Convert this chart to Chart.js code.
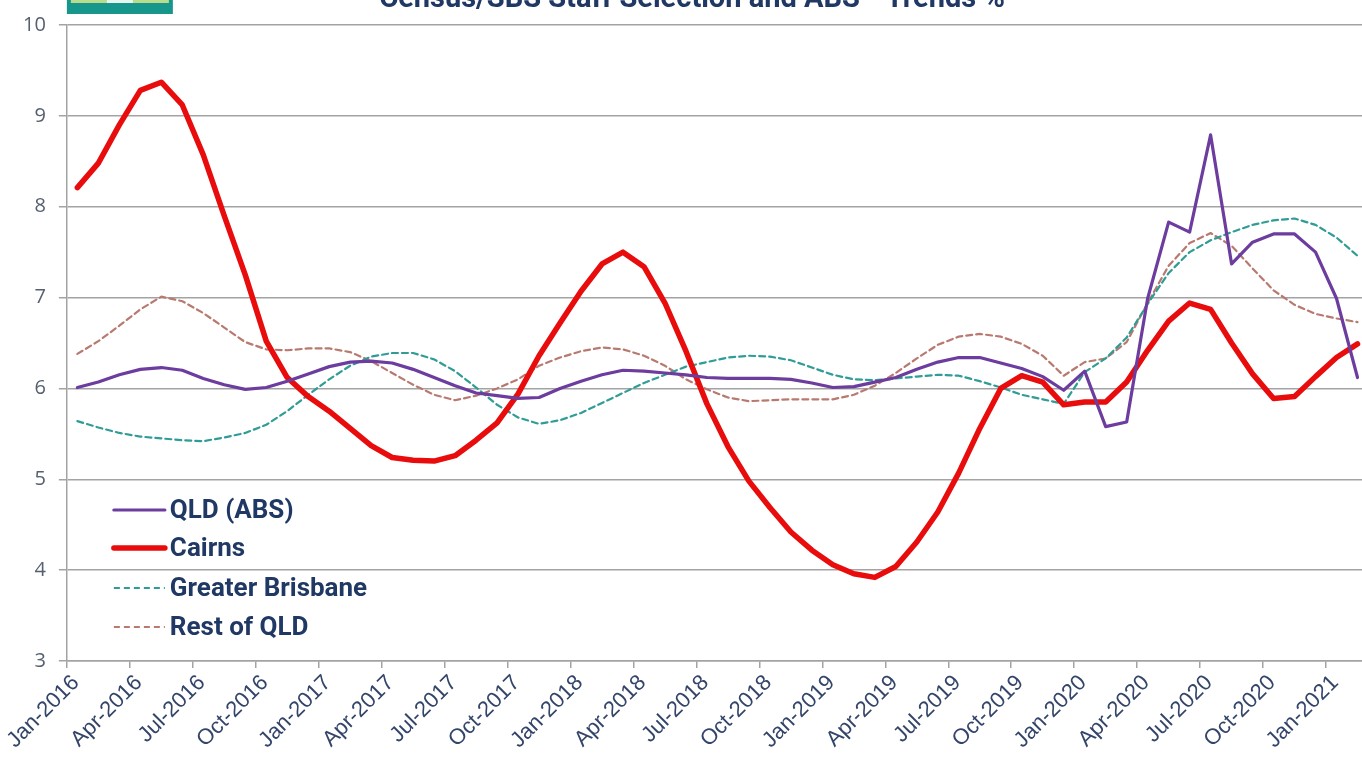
<!DOCTYPE html>
<html>
<head>
<meta charset="utf-8">
<title>Trends %</title>
<script src="https://cdn.jsdelivr.net/npm/chart.js@4.4.1/dist/chart.umd.min.js"></script>
<style>
  html, body { margin: 0; padding: 0; background: #fff; overflow: hidden; }
  #wrap { position: relative; width: 1362px; height: 759px; overflow: hidden; }
  canvas { position: absolute; left: 0; top: 0; }
</style>
</head>
<body>
<div id="wrap">
  <canvas id="trendChart" width="1372" height="759"></canvas>
</div>
<script>
// months, Jan-2016 .. Feb-2021
const months = [
    'Jan-2016', 'Feb-2016', 'Mar-2016', 'Apr-2016', 'May-2016', 'Jun-2016', 'Jul-2016', 'Aug-2016', 'Sep-2016', 'Oct-2016', 'Nov-2016', 'Dec-2016',
    'Jan-2017', 'Feb-2017', 'Mar-2017', 'Apr-2017', 'May-2017', 'Jun-2017', 'Jul-2017', 'Aug-2017', 'Sep-2017', 'Oct-2017', 'Nov-2017', 'Dec-2017',
    'Jan-2018', 'Feb-2018', 'Mar-2018', 'Apr-2018', 'May-2018', 'Jun-2018', 'Jul-2018', 'Aug-2018', 'Sep-2018', 'Oct-2018', 'Nov-2018', 'Dec-2018',
    'Jan-2019', 'Feb-2019', 'Mar-2019', 'Apr-2019', 'May-2019', 'Jun-2019', 'Jul-2019', 'Aug-2019', 'Sep-2019', 'Oct-2019', 'Nov-2019', 'Dec-2019',
    'Jan-2020', 'Feb-2020', 'Mar-2020', 'Apr-2020', 'May-2020', 'Jun-2020', 'Jul-2020', 'Aug-2020', 'Sep-2020', 'Oct-2020', 'Nov-2020', 'Dec-2020',
    'Jan-2021', 'Feb-2021'
];

// x ticks sit on the month boundaries, one every quarter
const quarterTicks = [0, 3, 6, 9, 12, 15, 18, 21, 24, 27, 30, 33, 36, 39, 42, 45, 48, 51, 54, 57, 60];
const yTicks = [3, 4, 5, 6, 7, 8, 9, 10];

const qldAbs = [
    6.01, 6.07, 6.15, 6.21, 6.23, 6.20, 6.11, 6.04, 5.99, 6.01, 6.08, 6.16,
    6.24, 6.29, 6.30, 6.28, 6.21, 6.12, 6.03, 5.95, 5.92, 5.89, 5.90, 6.00,
    6.08, 6.15, 6.20, 6.19, 6.17, 6.15, 6.12, 6.11, 6.11, 6.11, 6.10, 6.06,
    6.01, 6.02, 6.07, 6.12, 6.21, 6.29, 6.34, 6.34, 6.28, 6.22, 6.13, 5.98,
    6.19, 5.58, 5.63, 6.99, 7.83, 7.72, 8.79, 7.37, 7.61, 7.70, 7.70, 7.50,
    6.99, 6.12
];

const cairns = [
    8.21, 8.48, 8.90, 9.28, 9.37, 9.12, 8.57, 7.90, 7.25, 6.52, 6.12, 5.91,
    5.75, 5.56, 5.37, 5.24, 5.21, 5.20, 5.26, 5.43, 5.62, 5.94, 6.36, 6.72,
    7.07, 7.37, 7.50, 7.34, 6.94, 6.41, 5.83, 5.36, 4.98, 4.69, 4.42, 4.22,
    4.06, 3.96, 3.92, 4.04, 4.31, 4.64, 5.07, 5.56, 6.00, 6.14, 6.07, 5.82,
    5.85, 5.85, 6.07, 6.42, 6.74, 6.94, 6.87, 6.50, 6.16, 5.89, 5.91, 6.13,
    6.34, 6.49
];

const greaterBrisbane = [
    5.64, 5.57, 5.51, 5.47, 5.45, 5.43, 5.42, 5.46, 5.51, 5.60, 5.75, 5.93,
    6.10, 6.25, 6.35, 6.39, 6.39, 6.32, 6.19, 6.01, 5.82, 5.68, 5.61, 5.65,
    5.73, 5.84, 5.95, 6.06, 6.15, 6.24, 6.29, 6.34, 6.36, 6.35, 6.31, 6.23,
    6.15, 6.10, 6.09, 6.11, 6.13, 6.15, 6.14, 6.08, 6.01, 5.93, 5.88, 5.83,
    6.18, 6.33, 6.56, 6.93, 7.27, 7.50, 7.63, 7.72, 7.80, 7.85, 7.87, 7.80,
    7.66, 7.46
];

const restOfQld = [
    6.38, 6.52, 6.69, 6.87, 7.01, 6.96, 6.83, 6.67, 6.51, 6.43, 6.42, 6.44,
    6.44, 6.40, 6.30, 6.17, 6.04, 5.93, 5.87, 5.92, 6.00, 6.10, 6.25, 6.34,
    6.41, 6.45, 6.43, 6.36, 6.25, 6.10, 5.99, 5.90, 5.86, 5.87, 5.88, 5.88,
    5.88, 5.93, 6.03, 6.17, 6.33, 6.48, 6.57, 6.60, 6.57, 6.49, 6.36, 6.14,
    6.29, 6.33, 6.51, 6.94, 7.35, 7.60, 7.71, 7.57, 7.32, 7.08, 6.92, 6.82,
    6.77, 6.73
];

const chartTitle = 'Census/SBS Staff Selection and ABS - Trends %';
const navy = '#203864';
const axisGrey = '#a3a3a3';

// each month is plotted in the middle of its slot
const toPoints = (values) => values.map((v, i) => ({ x: i + 0.5, y: v }));

// title (cut off at the top of the picture), logo strip and in-plot legend
const decorations = {
    id: 'decorations',
    afterDraw(chart) {
        const { ctx, chartArea } = chart;
        ctx.save();

        // logo block
        ctx.fillStyle = '#17978b';
        ctx.fillRect(chartArea.left, 0, 106, 14);
        ctx.fillStyle = '#b9dc8c';
        ctx.fillRect(chartArea.left + 4, 0, 98, 3);
        ctx.fillStyle = '#e8f6f0';
        ctx.fillRect(chartArea.left + 40, 0, 26, 3);

        // title
        ctx.fillStyle = navy;
        ctx.font = 'bold 29px Roboto';
        ctx.textAlign = 'center';
        ctx.textBaseline = 'alphabetic';
        ctx.fillText(chartTitle, 692, 7);

        // legend
        const x0 = chartArea.left + 47;
        const x1 = chartArea.left + 98;
        const rows = [485, 523, 563, 602];
        ctx.font = 'bold 26px Roboto';
        ctx.textAlign = 'left';
        ctx.textBaseline = 'middle';
        chart.data.datasets.forEach((ds, i) => {
            const y = chartArea.top + rows[i];
            ctx.beginPath();
            ctx.strokeStyle = ds.borderColor;
            ctx.lineWidth = ds.borderWidth;
            ctx.lineCap = ds.borderDash.length ? 'butt' : 'round';
            ctx.setLineDash(ds.borderDash);
            ctx.moveTo(x0, y);
            ctx.lineTo(x1, y);
            ctx.stroke();
            ctx.setLineDash([]);
            ctx.fillStyle = navy;
            ctx.fillText(ds.label, x1 + 5, y + 1);
        });

        ctx.restore();
    }
};

const ctx = document.getElementById('trendChart').getContext('2d');
const trendChart = new Chart(ctx, {
    type: 'line',
    data: {
        datasets: [
            {
                label: 'QLD (ABS)',
                data: toPoints(qldAbs),
                borderColor: '#6c3d9e',
                borderWidth: 3.2,
                borderDash: []
            },
            {
                label: 'Cairns',
                data: toPoints(cairns),
                borderColor: '#e80c0c',
                borderWidth: 5.5,
                borderDash: []
            },
            {
                label: 'Greater Brisbane',
                data: toPoints(greaterBrisbane),
                borderColor: '#2f9c96',
                borderWidth: 2.2,
                borderDash: [6, 4]
            },
            {
                label: 'Rest of QLD',
                data: toPoints(restOfQld),
                borderColor: '#b87a70',
                borderWidth: 2.2,
                borderDash: [6, 4]
            }
        ]
    },
    options: {
        responsive: false,
        animation: false,
        layout: { padding: { top: 22, right: 4, bottom: 0, left: 0 } },
        elements: {
            point: { radius: 0, hoverRadius: 0 },
            line: { tension: 0, borderJoinStyle: 'round', borderCapStyle: 'round', fill: false }
        },
        plugins: {
            legend: { display: false },
            title: { display: false },
            tooltip: {
                callbacks: { title: (items) => months[Math.floor(items[0].parsed.x)] }
            }
        },
        scales: {
            x: {
                type: 'linear',
                min: 0,
                max: months.length,
                afterBuildTicks: (scale) => {
                    scale.ticks = quarterTicks.map(v => ({ value: v }));
                },
                afterFit: (scale) => { scale.height = 98; },
                grid: {
                    drawOnChartArea: false,
                    drawTicks: true,
                    tickLength: 7,
                    color: axisGrey,
                    lineWidth: 1.5
                },
                border: { display: true, color: axisGrey, width: 1.5 },
                ticks: {
                    autoSkip: false,
                    minRotation: 45,
                    maxRotation: 45,
                    padding: 2,
                    labelOffset: 9,
                    color: '#34456a',
                    font: { family: 'Liberation Sans', size: 22 },
                    callback: (value) => months[value]
                }
            },
            y: {
                min: 3,
                max: 10,
                afterBuildTicks: (scale) => {
                    scale.ticks = yTicks.map(v => ({ value: v }));
                },
                afterFit: (scale) => { scale.width = 66; },
                grid: {
                    color: axisGrey,
                    lineWidth: 1.5,
                    drawTicks: true,
                    tickLength: 8
                },
                border: { display: true, color: axisGrey, width: 1.5 },
                ticks: {
                    padding: 13,
                    color: '#56606f',
                    font: { family: 'Open Sans', size: 20 }
                }
            }
        }
    },
    plugins: [decorations]
});
</script>
</body>
</html>
